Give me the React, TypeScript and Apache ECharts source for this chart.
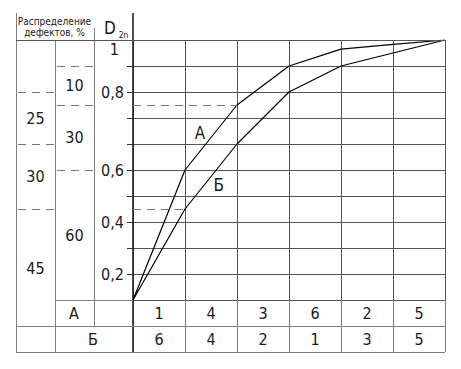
import React, { useEffect, useRef } from 'react';
import * as echarts from 'echarts';

// ---- data ----
const stages = [0, 1, 2, 3, 4, 5, 6];
const curveA = [0, 0.5, 0.75, 0.9, 0.965, 0.983, 1];
const curveB = [0, 0.35, 0.6, 0.8, 0.9, 0.95, 1];
const orderA = ['1', '4', '3', '6', '2', '5'];
const orderB = ['6', '4', '2', '1', '3', '5'];
const yTickValues = [0.1, 0.3, 0.5, 0.8, 1];
const yTickLabels = ['0,2', '0,4', '0,6', '0,8', '1'];
const distA = ['10', '30', '60'];
const distAPos = [0.825, 0.625, 0.25];
const distB = ['25', '30', '45'];
const distBPos = [0.7, 0.475, 0.12];
const guideA = 2;
const guideB = 1;
const curveNames = ['А', 'Б'];
const curveLabelPos = [[1.29, 0.642], [1.65, 0.442]];

const FONT = "'DejaVu Sans Condensed', 'Liberation Sans Narrow', 'DejaVu Sans', sans-serif";
const INK = '#1a1a1a';
const GRIDC = '#555';
const TABLEC = '#808080';

export default function App() {
  const ref = useRef<HTMLDivElement>(null);
  useEffect(() => {
    if (!ref.current) return;
    const chart = echarts.init(ref.current, undefined, { renderer: 'svg' });

    const boundsA = [curveA[3], curveA[2], curveA[1]];
    const boundsB = [curveB[3], curveB[2], curveB[1]];

    const colText = (xPix: number, labels: string[]) => (params: any, api: any) => {
      const y = api.coord([0, api.value(1)])[1];
      return {
        type: 'text',
        x: xPix,
        y,
        style: { text: labels[api.value(2)], fill: INK, fontSize: 16, fontFamily: FONT, align: 'center', verticalAlign: 'middle' },
      };
    };
    const colDash = (x1: number, x2: number) => (params: any, api: any) => {
      const y = Math.round(api.coord([0, api.value(1)])[1]) + 0.5;
      return {
        type: 'line',
        shape: { x1, y1: y, x2, y2: y },
        style: { stroke: '#777', lineWidth: 1, lineDash: [8, 6] },
      };
    };

    const hLine = (x1: number, x2: number, y: number, c = TABLEC, w = 1) => ({
      type: 'line', z: 5, shape: { x1, y1: y, x2, y2: y }, style: { stroke: c, lineWidth: w },
    });
    const vLine = (x: number, y1: number, y2: number, c = TABLEC, w = 1) => ({
      type: 'line', z: 5, shape: { x1: x, y1, x2: x, y2 }, style: { stroke: c, lineWidth: w },
    });
    const txt = (x: number, y: number, text: string, size = 16, extra: any = {}) => ({
      type: 'text', z: 6, x, y,
      style: { text, fill: INK, fontSize: size, fontFamily: FONT, align: 'center', verticalAlign: 'middle', ...extra },
    });

    chart.setOption({
      animation: false,
      backgroundColor: '#fff',
      grid: { left: 133, right: 16, top: 40, bottom: 69 },
      xAxis: [
        {
          type: 'value', min: 0, max: 6, interval: 1,
          axisLine: { show: false }, axisTick: { show: false }, axisLabel: { show: false },
          splitLine: { show: true, lineStyle: { color: GRIDC, width: 1 } },
        },
        {
          type: 'category', data: orderA, position: 'bottom', offset: 0,
          axisLine: { show: false },
          axisTick: { show: true, length: 26, lineStyle: { color: TABLEC } },
          axisLabel: { margin: 5, fontSize: 16, fontFamily: FONT, color: INK },
          splitLine: { show: false },
        },
        {
          type: 'category', data: orderB, position: 'bottom', offset: 26,
          axisLine: { show: false },
          axisTick: { show: true, length: 26, lineStyle: { color: TABLEC } },
          axisLabel: { margin: 5, fontSize: 16, fontFamily: FONT, color: INK },
          splitLine: { show: false },
        },
      ],
      yAxis: {
        type: 'value', min: 0, max: 1, interval: 0.1,
        axisLine: { show: false },
        axisTick: { show: true, length: 6, lineStyle: { color: '#333' } },
        axisLabel: {
          margin: 9, fontSize: 16, fontFamily: FONT, color: INK, showMaxLabel: true, showMinLabel: true,
          formatter: (v: number) => {
            const i = yTickValues.findIndex((t) => Math.abs(t - v) < 1e-6);
            if (i < 0) return '';
            if (Math.abs(v - 1) < 1e-6) return '{top|' + yTickLabels[i] + '}';
            return yTickLabels[i];
          },
          rich: { top: { padding: [18, 5, 0, 0], fontSize: 16, fontFamily: FONT, color: INK } },
        },
        splitLine: { show: true, lineStyle: { color: GRIDC, width: 1 } },
      },
      series: [
        {
          type: 'line', name: curveNames[0], xAxisIndex: 0,
          data: stages.map((s, i) => [s, curveA[i]]),
          symbol: 'none', lineStyle: { color: '#000', width: 1.2 }, z: 4,
          markLine: {
            silent: true, symbol: 'none', label: { show: false },
            lineStyle: { color: '#777', type: [8, 6], width: 1 },
            data: [[{ coord: [0, curveA[guideA]] }, { coord: [stages[guideA], curveA[guideA]] }]],
          },
        },
        {
          type: 'line', name: curveNames[1], xAxisIndex: 0,
          data: stages.map((s, i) => [s, curveB[i]]),
          symbol: 'none', lineStyle: { color: '#000', width: 1.2 }, z: 4,
          markLine: {
            silent: true, symbol: 'none', label: { show: false },
            lineStyle: { color: '#777', type: [8, 6], width: 1 },
            data: [[{ coord: [0, curveB[guideB]] }, { coord: [stages[guideB], curveB[guideB]] }]],
          },
        },
        {
          type: 'custom', xAxisIndex: 0, silent: true, clip: false,
          data: curveLabelPos.map((p, i) => [p[0], p[1], i]),
          renderItem: (params: any, api: any) => {
            const pt = api.coord([api.value(0), api.value(1)]);
            return {
              type: 'text', x: pt[0], y: pt[1],
              style: { text: curveNames[api.value(2)], fill: INK, fontSize: 17, fontFamily: FONT, align: 'center', verticalAlign: 'middle' },
            };
          },
        },
        { type: 'custom', xAxisIndex: 0, silent: true, clip: false, data: distBPos.map((p, i) => [0, p, i]), renderItem: colText(35.5, distB) },
        { type: 'custom', xAxisIndex: 0, silent: true, clip: false, data: distAPos.map((p, i) => [0, p, i]), renderItem: colText(74.5, distA) },
        { type: 'custom', xAxisIndex: 0, silent: true, clip: false, data: boundsB.map((b) => [0, b]), renderItem: colDash(18, 54) },
        { type: 'custom', xAxisIndex: 0, silent: true, clip: false, data: boundsA.map((b) => [0, b]), renderItem: colDash(57, 93) },
      ],
      graphic: [
        vLine(16.5, 13, 352),
        vLine(55.5, 40, 352),
        vLine(94.5, 28, 326),
        vLine(133, 13, 352, '#222', 1.6),
        hLine(16, 445, 40.5, GRIDC),
        hLine(55, 133, 300.5),
        hLine(16, 445, 326.5),
        hLine(16, 445, 352.5),
        txt(54.5, 21, 'Распределение', 10),
        txt(54.5, 32.5, 'дефектов, %', 10),
        txt(110, 28, 'D', 17),
        txt(123.5, 35, '2n', 8.5),
        txt(74, 313, 'А', 16),
        txt(93, 339, 'Б', 16),
      ],
    });
    return () => chart.dispose();
  }, []);
  return (
    <div
      ref={ref}
      style={{ position: 'fixed', left: 0, top: 0, width: 461, height: 369, background: '#fff' }}
    />
  );
}
